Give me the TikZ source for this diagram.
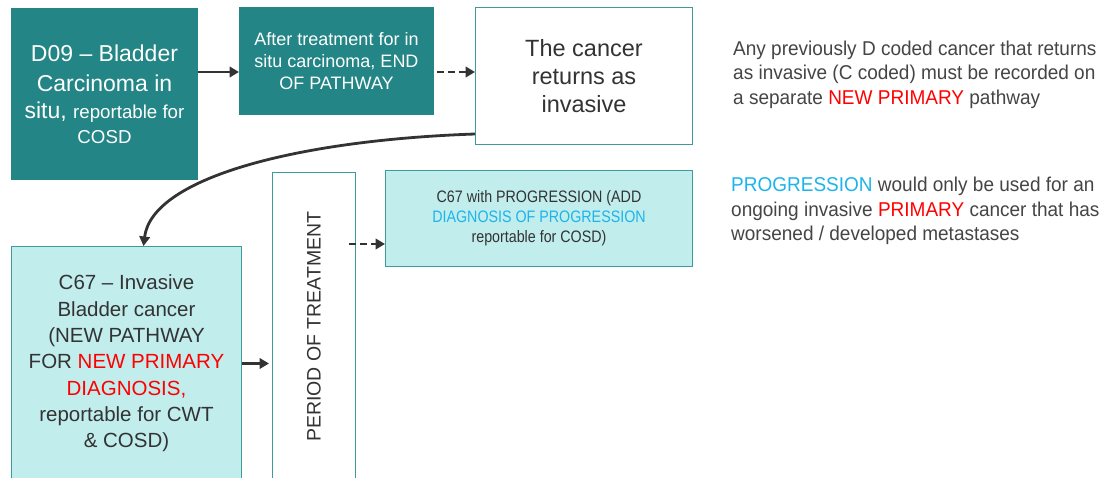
\documentclass[tikz,border=0pt]{standalone}
\usepackage{fontspec}
\setmainfont{Liberation Sans}
\newfontfamily\narrowf{Liberation Sans}[FakeStretch=0.86]
\newfontfamily\notef{Liberation Sans}[FakeStretch=0.95]
\usetikzlibrary{arrows.meta}
\definecolor{teal1}{HTML}{238585}
\definecolor{tealb}{HTML}{3D9B9B}
\definecolor{cyan1}{HTML}{C2EDED}
\definecolor{txt}{HTML}{333333}
\definecolor{red1}{HTML}{FF0000}
\definecolor{blue1}{HTML}{1CB4EA}
\definecolor{grey1}{HTML}{454545}
\begin{document}
\begin{tikzpicture}[x=1pt,y=-1pt,
 box/.style={draw=tealb, line width=1pt, anchor=north west, align=center, inner sep=0pt},
 tealbox/.style={box, fill=teal1, draw=teal1, text=white},
 lightbox/.style={box, fill=cyan1, text=txt},
 whitebox/.style={box, fill=white, text=txt},
 arr/.style={draw=txt, line width=2.8pt, -{Triangle[length=9.5pt,width=10.5pt]}},
 darr/.style={arr, dash pattern=on 7pt off 4pt},
 note/.style={anchor=north west, align=left, text=grey1, inner sep=0pt}]
\clip (0,0) rectangle (1106,477);
\fill[white] (0,0) rectangle (1106,477);

\node[tealbox, minimum width=186pt, minimum height=171pt, font={\fontsize{23}{27}\selectfont}] (d09) at (11,8)
 {D09 – Bladder\\[3pt] Carcinoma in\\ situ, {\fontsize{18.7}{24}\selectfont reportable for}\\[-2pt] {\fontsize{18.7}{24}\selectfont COSD}};

\node[tealbox, minimum width=194pt, minimum height=107pt, font={\fontsize{18}{22}\selectfont}] (after) at (239,7)
 {After treatment for in\\ situ carcinoma, END\\ OF PATHWAY};

\node[whitebox, minimum width=217pt, minimum height=137pt, font={\fontsize{23.5}{28}\selectfont}] (ret) at (475,7)
 {The cancer\\ returns as\\ invasive};

\node[note, font={\fontsize{20}{24.3}\selectfont\notef}] (note1) at (733,41)
 {Any previously D coded cancer that returns\\ as invasive (C coded) must be recorded on\\ a separate \textcolor{red1}{NEW PRIMARY} pathway};

\node[lightbox, minimum width=230pt, minimum height=234pt, font={\fontsize{20.5}{26.3}\selectfont}] (c67) at (11,246)
 {C67 – Invasive\\ Bladder cancer\\ (NEW PATHWAY\\ FOR \textcolor{red1}{NEW PRIMARY}\\ \textcolor{red1}{DIAGNOSIS,}\\ reportable for CWT\\ \& COSD)};

\node[whitebox, minimum width=83pt, minimum height=308pt] (period) at (272,172) {};
\node[text=txt, rotate=90, inner sep=0pt, font={\fontsize{19.5}{22}\selectfont}] (ptext) at (period.center)
 {PERIOD OF TREATMENT};

\node[lightbox, minimum width=307pt, minimum height=96pt, font={\fontsize{16.6}{20}\selectfont\narrowf}] (prog) at (385,170)
 {C67 with PROGRESSION (ADD\\ \textcolor{blue1}{DIAGNOSIS OF PROGRESSION}\\ reportable for COSD)};

\node[note, font={\fontsize{20}{24.5}\selectfont\notef}] (note2) at (731,177)
 {\textcolor{blue1}{PROGRESSION} would only be used for an\\ ongoing invasive \textcolor{red1}{PRIMARY} cancer that has\\ worsened / developed metastases};

\draw[arr] (d09.east |- 0,72) -- (after.west |- 0,72);
\draw[darr] ([xshift=3pt]after.east |- 0,72) -- (ret.west |- 0,72);
\draw[arr] ([yshift=11pt]ret.south west) .. controls (300,140) and (152,177) .. ([xshift=17pt]c67.north);
\draw[arr] (c67.east) -- ([xshift=-3pt]period.west |- c67.east);
\draw[darr] ([xshift=-7pt]period.east |- 0,244) -- (prog.west |- 0,244);
\end{tikzpicture}
\end{document}
